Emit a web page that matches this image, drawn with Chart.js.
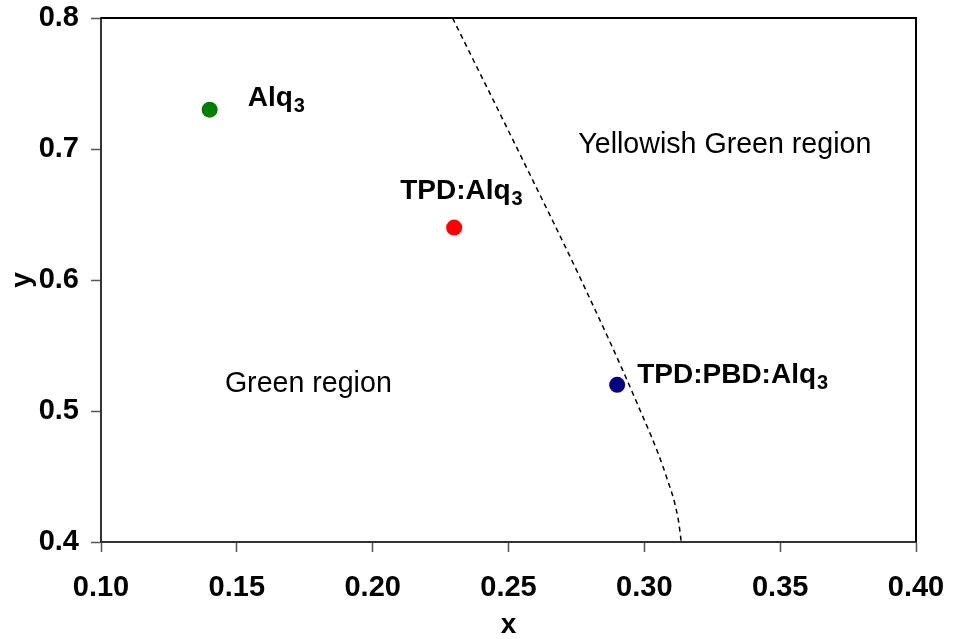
<!DOCTYPE html>
<html lang="en">
<head>
    <meta charset="UTF-8">
    <title>CIE coordinates</title>
    <script src="https://cdn.jsdelivr.net/npm/chart.js"></script>
    <style>
        html, body { margin: 0; padding: 0; background: #fff; }
        #wrap { width: 953px; height: 639px; }
    </style>
</head>
<body>
    <div id="wrap"><canvas id="cie"></canvas></div>

    <script>
        // Emitting layers and their (x, y) colour coordinates
        const names = ['Alq3', 'TPD:Alq3', 'TPD:PBD:Alq3'];
        const cieX = [0.14, 0.23, 0.29];
        const cieY = [0.73, 0.64, 0.52];
        const colors = ['#008000', '#ff0000', '#000080'];

        // Boundary between the green and yellowish green regions
        const boundaryX = [0.2294, 0.2566, 0.2772, 0.2971, 0.3081, 0.3125, 0.3136];
        const boundaryY = [0.80, 0.686, 0.598, 0.507, 0.450, 0.417, 0.40];

        // Axis ticks
        const xTicks = [0.10, 0.15, 0.20, 0.25, 0.30, 0.35, 0.40];
        const yTicks = [0.4, 0.5, 0.6, 0.7, 0.8];

        // Region captions (text anchor in chart units)
        const regionNames = ['Yellowish Green region', 'Green region'];
        const regionX = [0.2757, 0.1456];
        const regionY = [0.697, 0.5145];

        const FONT = '"Liberation Sans", Arial, sans-serif';

        // label offsets from each point, px
        const labelOffsets = [[38, -4], [-54, -29], [20, -2]];

        const boundary = boundaryX.map((x, i) => ({ x: x, y: boundaryY[i] }));

        const pointSets = names.map((n, i) => ({
            label: n,
            data: [{ x: cieX[i], y: cieY[i] }],
            backgroundColor: colors[i],
            borderColor: colors[i],
            borderWidth: 0,
            pointRadius: 8,
            pointHoverRadius: 8,
            order: 1
        }));

        // top and right frame lines
        const framePlugin = {
            id: 'frame',
            beforeDatasetsDraw(chart) {
                const a = chart.chartArea, c = chart.ctx;
                c.save();
                c.strokeStyle = '#000';
                c.lineWidth = 2;
                c.beginPath();
                c.moveTo(a.left, a.top);
                c.lineTo(a.right, a.top);
                c.lineTo(a.right, a.bottom);
                c.stroke();
                c.restore();
            }
        };

        // text with a trailing subscript digit
        function drawSubText(c, text, x, y, size) {
            const m = text.match(/^(.*?)(\d+)$/);
            const main = m ? m[1] : text;
            c.font = 'bold ' + size + 'px ' + FONT;
            c.fillText(main, x, y);
            if (m) {
                const w = c.measureText(main).width;
                c.font = 'bold ' + Math.round(size * 0.7) + 'px ' + FONT;
                c.fillText(m[2], x + w + 1, y + 6);
            }
        }

        const textPlugin = {
            id: 'texts',
            afterDatasetsDraw(chart) {
                const c = chart.ctx;
                const sx = chart.scales.x, sy = chart.scales.y;
                c.save();
                c.fillStyle = '#000';
                c.textAlign = 'left';
                c.textBaseline = 'alphabetic';
                names.forEach((n, i) => {
                    const px = sx.getPixelForValue(cieX[i]) + labelOffsets[i][0];
                    const py = sy.getPixelForValue(cieY[i]) + labelOffsets[i][1];
                    drawSubText(c, n, px, py, 28);
                });
                c.font = '28.6px ' + FONT;
                regionNames.forEach((r, i) => {
                    c.fillText(r, sx.getPixelForValue(regionX[i]), sy.getPixelForValue(regionY[i]));
                });
                c.restore();
            }
        };

        Chart.defaults.font.family = FONT;
        Chart.defaults.color = '#000';

        const chart = new Chart(document.getElementById('cie'), {
            type: 'scatter',
            data: {
                datasets: [
                    {
                        label: 'boundary',
                        data: boundary,
                        showLine: true,
                        borderColor: '#000',
                        borderWidth: 1.5,
                        borderDash: [5, 4],
                        cubicInterpolationMode: 'monotone',
                        pointRadius: 0,
                        pointHoverRadius: 0,
                        order: 2
                    },
                    ...pointSets
                ]
            },
            options: {
                responsive: true,
                maintainAspectRatio: false,
                animation: false,
                layout: { padding: { top: 18, right: 37, left: 0, bottom: 0 } },
                plugins: {
                    legend: { display: false },
                    tooltip: { enabled: false }
                },
                scales: {
                    x: {
                        type: 'linear',
                        min: 0.1,
                        max: 0.4,
                        afterBuildTicks: s => { s.ticks = xTicks.map(v => ({ value: v })); },
                        afterFit: s => {
                            s.height = 97;
                            s.paddingLeft = 0;
                            s.paddingRight = 0;
                        },
                        ticks: {
                            font: { size: 29, weight: 'bold' },
                            padding: 19,
                            callback: v => v.toFixed(2)
                        },
                        grid: { drawOnChartArea: false, tickLength: 10, tickColor: '#555', tickWidth: 1.5 },
                        border: { color: '#333', width: 2 },
                        title: {
                            display: true,
                            text: 'x',
                            font: { size: 28, weight: 'bold', lineHeight: 1.0 },
                            padding: 0
                        }
                    },
                    y: {
                        min: 0.4,
                        max: 0.8,
                        afterBuildTicks: s => { s.ticks = yTicks.map(v => ({ value: v })); },
                        afterFit: s => {
                            s.width = 101;
                            s.paddingTop = 0;
                            s.paddingBottom = 0;
                        },
                        ticks: {
                            font: { size: 29, weight: 'bold' },
                            padding: 12,
                            callback: v => v.toFixed(1)
                        },
                        grid: { drawOnChartArea: false, tickLength: 10, tickColor: '#555', tickWidth: 1.5 },
                        border: { color: '#333', width: 2 },
                        title: {
                            display: true,
                            text: 'y',
                            font: { size: 28, weight: 'bold' },
                            padding: { top: 5, bottom: 0 }
                        }
                    }
                }
            },
            plugins: [framePlugin, textPlugin]
        });
    </script>
</body>
</html>
